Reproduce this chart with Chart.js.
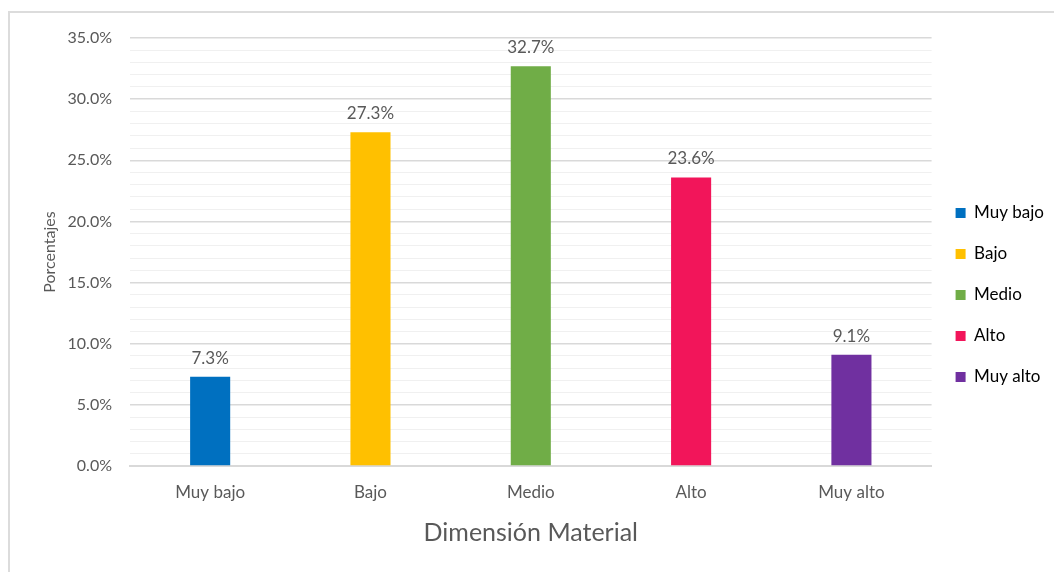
<!DOCTYPE html>
<html>
<head>
<meta charset="utf-8">
<script src="https://cdn.jsdelivr.net/npm/chart.js@4"></script>
<style>
    body { margin: 0; background: #fff; }
    #frame {
        position: absolute; left: 8px; top: 11px; width: 1100px; height: 600px;
        border-left: 2px solid #dcdcdc; border-top: 2px solid #dcdcdc;
    }
    #wrap { position: absolute; left: 0; top: 0; width: 1054px; height: 572px; }
</style>
</head>
<body>
<div id="frame"></div>
<div id="wrap"><canvas id="chart"></canvas></div>
<script>
    const categories = ['Muy bajo', 'Bajo', 'Medio', 'Alto', 'Muy alto'];
    const percentages = [7.3, 27.3, 32.7, 23.6, 9.1];
    const barColors = ['#0070C0', '#FFC000', '#70AD47', '#F2155A', '#7030A0'];
    const yMax = 35;

    const textGray = '#595959';
    const fontName = 'Lato, "Open Sans", sans-serif';

    // draws the value above each bar, using the bar elements Chart.js placed
    const valueLabels = {
        id: 'valueLabels',
        afterDatasetsDraw(chart) {
            const ctx = chart.ctx;
            const meta = chart.getDatasetMeta(0);
            ctx.save();
            ctx.font = '17px ' + fontName;
            ctx.fillStyle = textGray;
            ctx.textAlign = 'center';
            ctx.textBaseline = 'bottom';
            meta.data.forEach((bar, i) => {
                ctx.fillText(percentages[i].toFixed(1) + '%', bar.x, bar.y - 10);
            });
            ctx.restore();
        }
    };

    new Chart(document.getElementById('chart'), {
        type: 'bar',
        data: {
            labels: categories,
            datasets: [{
                data: percentages,
                backgroundColor: barColors,
                barPercentage: 0.25,
                categoryPercentage: 1
            }]
        },
        options: {
            responsive: true,
            maintainAspectRatio: false,
            animation: false,
            layout: { padding: { left: 36, top: 38, right: 0, bottom: 20 } },
            plugins: {
                tooltip: { enabled: false },
                legend: {
                    position: 'right',
                    labels: {
                        font: { family: fontName, size: 17 },
                        color: textGray,
                        boxWidth: 10,
                        boxHeight: 10,
                        padding: 24,
                        generateLabels: () => categories.map((c, i) => ({
                            text: c,
                            fillStyle: barColors[i],
                            strokeStyle: barColors[i],
                            lineWidth: 0,
                            index: i
                        }))
                    }
                }
            },
            scales: {
                x: {
                    grid: { display: false },
                    border: { color: '#d9d9d9', width: 2 },
                    ticks: { color: textGray, font: { family: fontName, size: 17 }, padding: 8 },
                    title: {
                        display: true,
                        text: 'Dimensión Material',
                        color: textGray,
                        font: { family: fontName, size: 25 }
                    },
                    afterFit: scale => { scale.height = 86; }
                },
                y: {
                    min: 0,
                    max: yMax,
                    border: { display: false },
                    grid: {
                        color: c => (c.tick.value % 5 === 0 ? '#d9d9d9' : '#f0f0f0'),
                        lineWidth: c => (c.tick.value % 5 === 0 ? 1.5 : 1),
                        drawTicks: false
                    },
                    ticks: {
                        stepSize: 1,
                        autoSkip: false,
                        padding: 18,
                        color: textGray,
                        font: { family: fontName, size: 16 },
                        callback: v => (v % 5 === 0 ? v.toFixed(1) + '%' : '')
                    },
                    title: {
                        display: true,
                        text: 'Porcentajes',
                        color: textGray,
                        font: { family: fontName, size: 16 }
                    },
                    afterFit: scale => { scale.width = 94; }
                }
            }
        },
        plugins: [valueLabels]
    });
</script>
</body>
</html>
